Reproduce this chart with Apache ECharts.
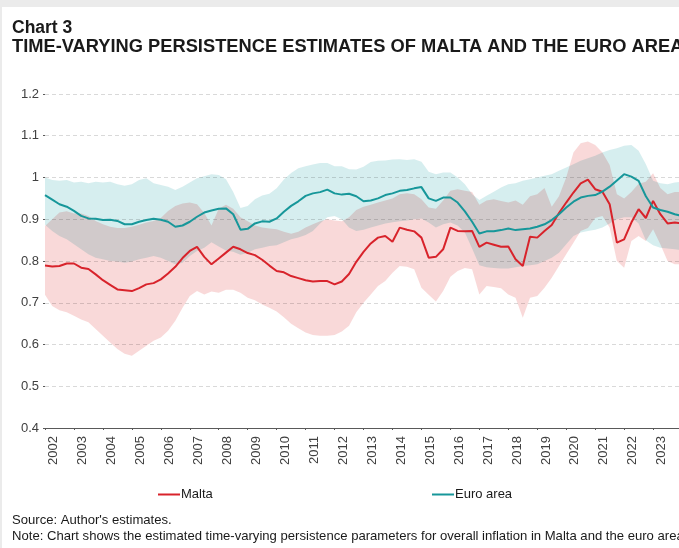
<!DOCTYPE html>
<html><head><meta charset="utf-8">
<script src="https://cdn.jsdelivr.net/npm/echarts@6/dist/echarts.min.js"></script>
<style>html,body{margin:0;padding:0;background:#fff;overflow:hidden;width:679px;height:548px}#c{width:720px;height:548px}</style>
</head><body><div id="c"></div>
<script>
// Quarterly x grid (decimal years), 2002Q1 .. 2024Q1
const quarters = Array.from({length: 89}, (_, i) => 2002 + i / 4);
const tickYears = Array.from({length: 24}, (_, i) => 2002 + i);
const labelYears = Array.from({length: 22}, (_, i) => 2002 + i);
const yTicks = [0.4, 0.5, 0.6, 0.7, 0.8, 0.9, 1.0, 1.1, 1.2];

const malta = [
0.789,0.787,0.788,0.794, 0.794,0.784,0.781,0.768, 0.754,0.743,0.732,0.730, 0.728,0.735,0.744,0.747,
0.756,0.770,0.786,0.807, 0.824,0.834,0.810,0.792, 0.806,0.820,0.834,0.828, 0.819,0.814,0.803,0.789,
0.776,0.773,0.764,0.759, 0.754,0.751,0.752,0.752, 0.744,0.751,0.769,0.798, 0.822,0.842,0.856,0.860,
0.846,0.880,0.875,0.871, 0.856,0.808,0.810,0.828, 0.880,0.872,0.871,0.872, 0.834,0.844,0.839,0.834,
0.835,0.804,0.788,0.858, 0.856,0.872,0.886,0.915, 0.940,0.964,0.986,0.995, 0.972,0.966,0.936,0.844,
0.852,0.892,0.924,0.903, 0.944,0.912,0.890,0.892, 0.890];
const maltaLow = [
0.719,0.692,0.682,0.677, 0.669,0.660,0.653,0.637, 0.621,0.605,0.589,0.578, 0.573,0.585,0.597,0.609,
0.617,0.633,0.657,0.688, 0.716,0.728,0.720,0.727, 0.724,0.731,0.731,0.724, 0.712,0.706,0.696,0.688,
0.679,0.665,0.650,0.639, 0.629,0.623,0.621,0.621, 0.623,0.631,0.645,0.677, 0.700,0.720,0.740,0.752,
0.772,0.788,0.786,0.780, 0.736,0.719,0.703,0.728, 0.762,0.776,0.783,0.780, 0.720,0.740,0.738,0.735,
0.720,0.712,0.664,0.712, 0.716,0.736,0.760,0.788, 0.816,0.844,0.872,0.879, 0.903,0.908,0.880,0.800,
0.784,0.848,0.860,0.848, 0.876,0.840,0.800,0.792, 0.792];
const maltaHigh = [
0.884,0.900,0.916,0.919, 0.914,0.914,0.908,0.896, 0.888,0.882,0.879,0.879, 0.882,0.887,0.892,0.896,
0.903,0.920,0.932,0.938, 0.940,0.936,0.915,0.885, 0.925,0.935,0.925,0.905, 0.895,0.885,0.880,0.878,
0.876,0.870,0.865,0.870, 0.880,0.888,0.895,0.900, 0.897,0.895,0.905,0.922, 0.930,0.935,0.940,0.945,
0.950,0.960,0.962,0.960, 0.948,0.928,0.925,0.945, 0.968,0.972,0.968,0.965, 0.935,0.945,0.948,0.944,
0.940,0.945,0.935,0.955, 0.960,0.975,0.930,0.955, 1.000,1.060,1.082,1.086, 1.078,1.060,1.030,0.960,
0.950,0.965,0.985,0.990, 1.010,0.975,0.960,0.965, 0.965];
const euro = [
0.958,0.947,0.936,0.930, 0.920,0.908,0.902,0.901, 0.898,0.899,0.896,0.888, 0.888,0.894,0.898,0.901,
0.899,0.894,0.882,0.885, 0.894,0.906,0.916,0.921, 0.925,0.926,0.912,0.875, 0.877,0.890,0.895,0.894,
0.902,0.918,0.932,0.943, 0.956,0.962,0.965,0.971, 0.962,0.959,0.961,0.955, 0.943,0.945,0.950,0.958,
0.962,0.968,0.970,0.974, 0.977,0.950,0.944,0.952, 0.952,0.940,0.919,0.894, 0.866,0.871,0.871,0.874,
0.878,0.874,0.876,0.878, 0.882,0.888,0.898,0.912, 0.928,0.942,0.952,0.956, 0.958,0.966,0.978,0.993,
1.008,1.002,0.992,0.955, 0.928,0.922,0.918,0.912, 0.908];
const euroLow = [
0.887,0.872,0.860,0.852, 0.840,0.828,0.816,0.808, 0.804,0.800,0.799,0.796, 0.799,0.804,0.808,0.812,
0.808,0.800,0.792,0.796, 0.812,0.824,0.832,0.845, 0.835,0.825,0.822,0.815, 0.820,0.828,0.832,0.836,
0.838,0.845,0.852,0.856, 0.862,0.872,0.890,0.905, 0.908,0.900,0.880,0.872, 0.875,0.880,0.885,0.890,
0.893,0.895,0.897,0.900, 0.902,0.892,0.880,0.888, 0.892,0.885,0.868,0.830, 0.790,0.785,0.783,0.782,
0.782,0.785,0.788,0.790, 0.792,0.800,0.808,0.820, 0.840,0.860,0.868,0.872, 0.875,0.880,0.890,0.900,
0.905,0.905,0.890,0.850, 0.838,0.832,0.830,0.828, 0.826];
const euroHigh = [
1.000,0.994,0.992,0.994, 0.988,0.990,0.986,0.990, 0.988,0.990,0.984,0.980, 0.984,0.994,0.998,0.986,
0.982,0.978,0.970,0.978, 0.988,0.998,1.003,1.008, 1.006,0.996,0.965,0.927, 0.932,0.948,0.957,0.961,
0.974,0.995,1.011,1.022, 1.027,1.031,1.035,1.035, 1.027,1.027,1.020,1.019, 1.026,1.037,1.040,1.041,
1.043,1.044,1.042,1.044, 1.038,1.014,1.008,1.012, 1.012,1.000,0.984,0.960, 0.946,0.956,0.966,0.976,
0.984,0.986,0.992,0.996, 1.000,1.004,1.008,1.016, 1.024,1.032,1.040,1.046, 1.052,1.060,1.066,1.070,
1.076,1.078,1.064,1.032, 0.992,0.986,0.984,0.988, 0.990];

const RED = '#d8232b', TEAL = '#17979a', PINK = '#f9d9d9', CYAN = '#d6eeef';
const FONT = 'Liberation Sans, Arial, sans-serif';
const LABEL_SHIFT = 0.3; // years: year labels sit slightly right of their ticks

function pairs(arr) { return quarters.map((t, i) => [t, arr[i]]); }

// Confidence band drawn as one polygon through the axis scales
function bandSeries(name, lo, hi, color) {
  return {
    type: 'custom', name: name, silent: true, z: 1, blendMode: 'multiply',
    data: [[quarters[0], lo[0]]], encode: { x: 0, y: 1 },
    renderItem: function (params, api) {
      if (params.dataIndex !== 0) return null;
      const pts = [];
      for (let i = 0; i < quarters.length; i++) pts.push(api.coord([quarters[i], hi[i]]));
      for (let i = quarters.length - 1; i >= 0; i--) pts.push(api.coord([quarters[i], lo[i]]));
      return { type: 'polygon', shape: { points: pts }, style: { fill: color, stroke: null } };
    }
  };
}

const chart = echarts.init(document.getElementById('c'), null, { renderer: 'canvas' });
const titleText = (t, top, size, weight) => ({
  text: t, left: 12, top: top, padding: 0,
  textStyle: { fontSize: size, fontWeight: weight, color: '#1a1a1a', fontFamily: FONT }
});
chart.setOption({
  backgroundColor: '#ffffff',
  animation: false,
  textStyle: { fontFamily: FONT },
  title: [
    titleText('Chart 3', 19, 17.5, 'bold'),
    titleText('TIME-VARYING PERSISTENCE ESTIMATES OF MALTA AND THE EURO AREA', 38, 18.3, 'bold'),
    titleText("Source: Author's estimates.", 514, 13.1, 'normal'),
    titleText('Note: Chart shows the estimated time-varying persistence parameters for overall inflation in Malta and the euro area', 530, 13.1, 'normal')
  ],
  graphic: [
    { type: 'rect', shape: { x: 0, y: 0, width: 720, height: 7 }, style: { fill: '#ebebeb' }, silent: true },
    { type: 'rect', shape: { x: 0, y: 0, width: 2, height: 548 }, style: { fill: '#ebebeb' }, silent: true }
  ],
  legend: [
    { data: ['Malta'], left: 158, top: 488, padding: 0, icon: 'rect', itemWidth: 22, itemHeight: 2,
      textStyle: { fontSize: 13, color: '#1a1a1a', padding: [0, 0, 0, -4] } },
    { data: ['Euro area'], left: 432, top: 488, padding: 0, icon: 'rect', itemWidth: 22, itemHeight: 2,
      textStyle: { fontSize: 13, color: '#1a1a1a', padding: [0, 0, 0, -4] } }
  ],
  grid: { left: 45, top: 94, bottom: 120, right: 9, containLabel: false },
  xAxis: {
    type: 'value', min: 2002, max: 2025, interval: 1,
    axisLine: { show: true, onZero: false, lineStyle: { color: '#595959', width: 1 } },
    axisTick: { show: true, length: 2, customValues: tickYears, lineStyle: { color: '#595959' } },
    splitLine: { show: false },
    axisLabel: { rotate: 90, margin: 8, fontSize: 13, color: '#404040',
      customValues: labelYears.map(y => y + LABEL_SHIFT),
      formatter: v => String(Math.round(v - LABEL_SHIFT)) }
  },
  yAxis: {
    type: 'value', min: yTicks[0], max: yTicks[yTicks.length - 1], interval: 0.1,
    axisLine: { show: false },
    axisTick: { show: true, length: 2, lineStyle: { color: '#595959' } },
    splitLine: { show: true, lineStyle: { color: '#d9d9d9', type: [4, 3], width: 1 } },
    axisLabel: { fontSize: 13, color: '#404040', margin: 6,
      formatter: v => String(+v.toFixed(1)) }
  },
  series: [
    bandSeries('Euro area band', euroLow, euroHigh, CYAN),
    bandSeries('Malta band', maltaLow, maltaHigh, PINK),
    { type: 'line', name: 'Malta', data: pairs(malta), symbol: 'none', z: 3,
      lineStyle: { color: RED, width: 2 }, itemStyle: { color: RED } },
    { type: 'line', name: 'Euro area', data: pairs(euro), symbol: 'none', z: 3,
      lineStyle: { color: TEAL, width: 2 }, itemStyle: { color: TEAL } }
  ]
});
</script></body></html>
